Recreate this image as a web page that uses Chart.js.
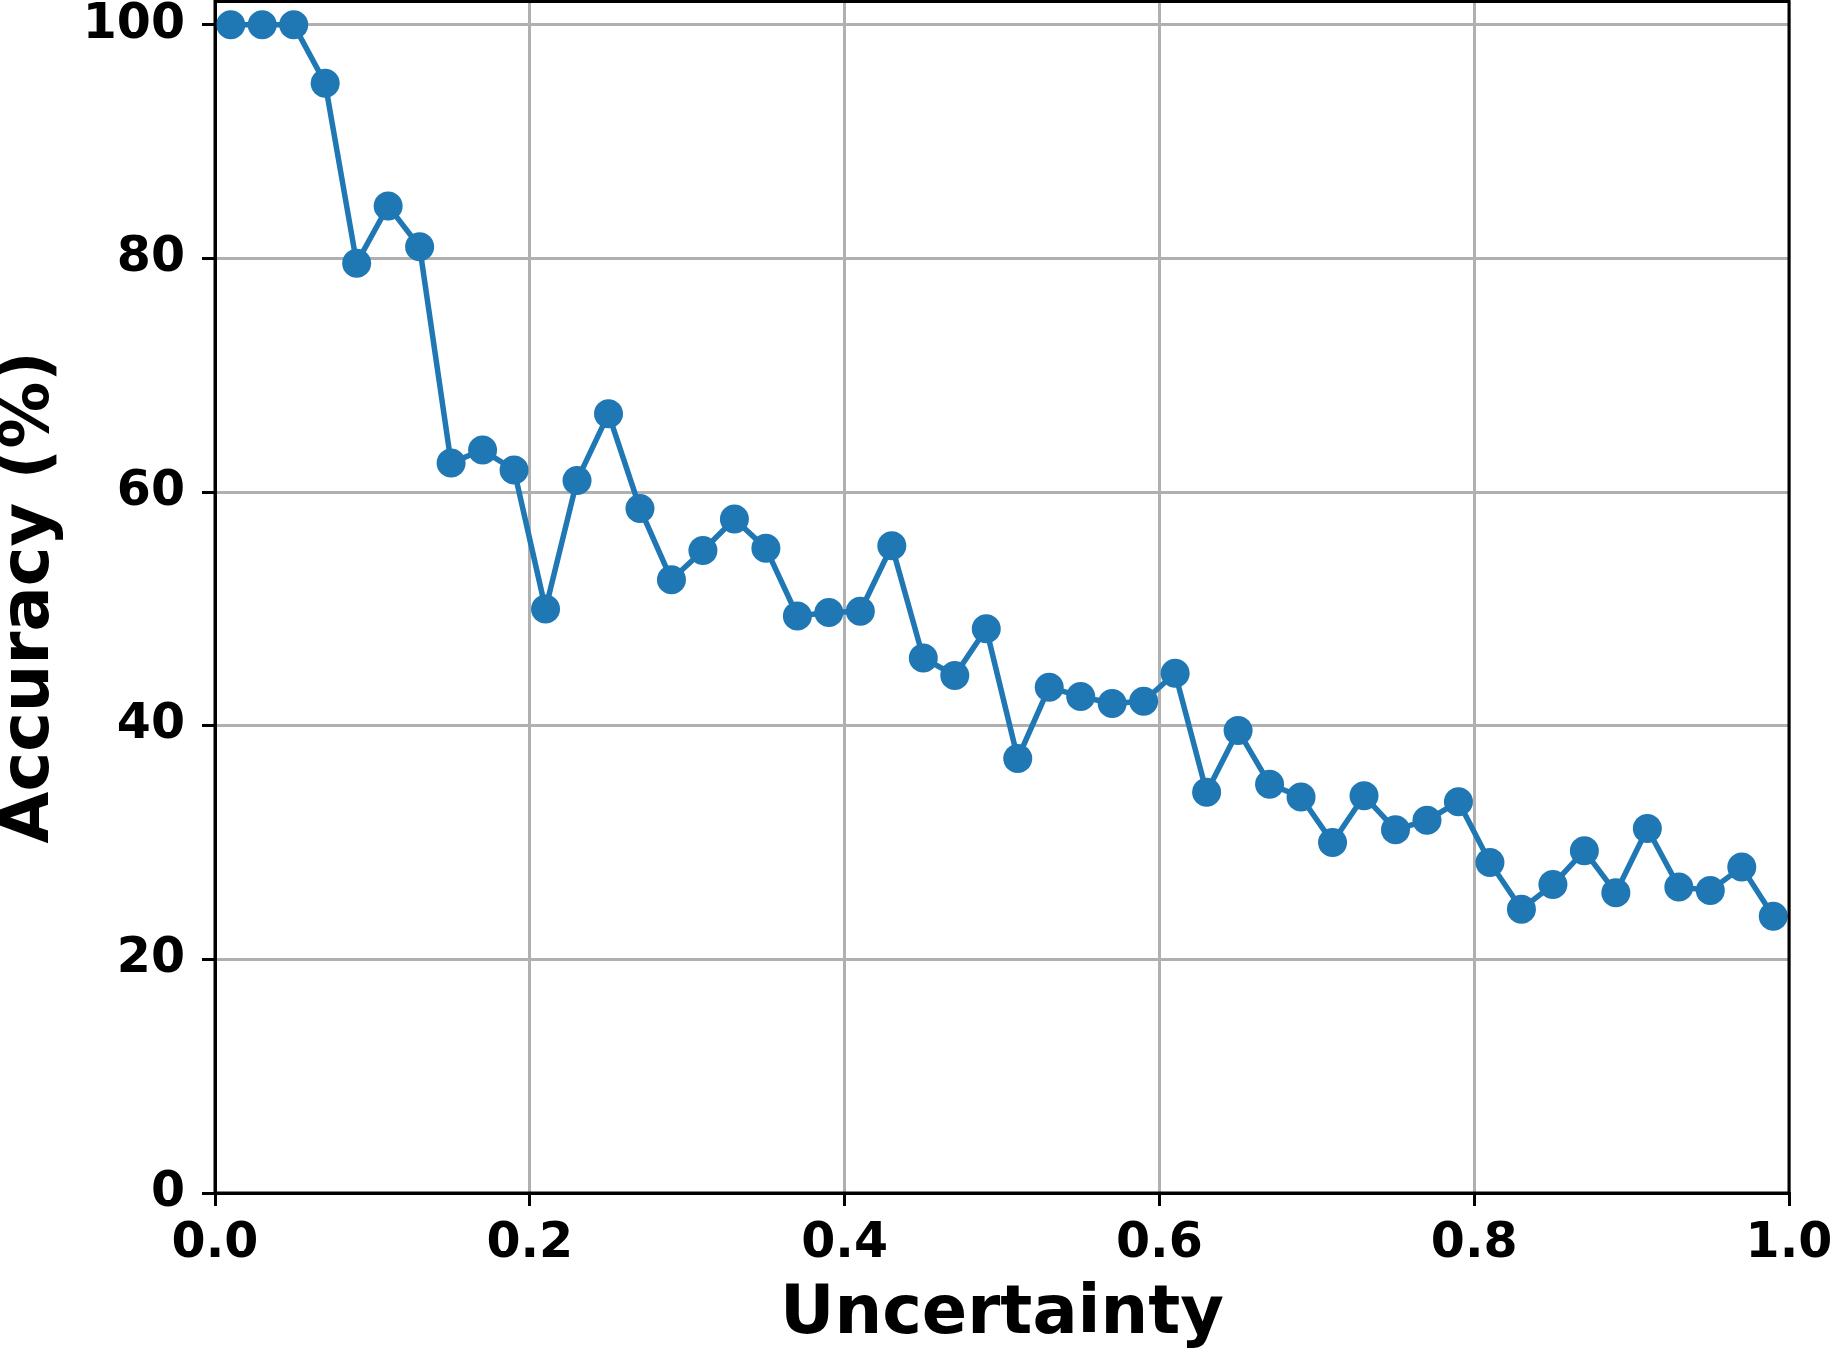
<!DOCTYPE html>
<html>
<head>
<meta charset="utf-8">
<script src="https://cdn.jsdelivr.net/npm/chart.js@4"></script>
<style>
  html, body { margin: 0; padding: 0; background: #fff; }
  #wrap { width: 1834px; height: 1353px; }
</style>
</head>
<body>
<div id="wrap"><canvas id="accChart" width="1834" height="1353"></canvas></div>
<script>
// =========================
// DATA
// =========================
let uncertainty = [0.01, 0.03, 0.05, 0.07, 0.09, 0.11, 0.13, 0.15, 0.17, 0.19,
                   0.21, 0.23, 0.25, 0.27, 0.29, 0.31, 0.33, 0.35, 0.37, 0.39,
                   0.41, 0.43, 0.45, 0.47, 0.49, 0.51, 0.53, 0.55, 0.57, 0.59,
                   0.61, 0.63, 0.65, 0.67, 0.69, 0.71, 0.73, 0.75, 0.77, 0.79,
                   0.81, 0.83, 0.85, 0.87, 0.89, 0.91, 0.93, 0.95, 0.97, 0.99];

let accuracy = [100, 100, 100, 95.0, 79.6, 84.5, 81.0, 62.5, 63.6, 61.9,
                50.0, 61.0, 66.7, 58.6, 52.5, 55.0, 57.7, 55.2, 49.4, 49.7,
                49.8, 55.4, 45.8, 44.3, 48.3, 37.2, 43.3, 42.5, 41.9, 42.1,
                44.5, 34.3, 39.6, 35.0, 33.9, 30.0, 34.0, 31.1, 31.9, 33.5,
                28.3, 24.3, 26.4, 29.3, 25.7, 31.2, 26.2, 25.9, 27.9, 23.7];

let xTicks = [0, 0.2, 0.4, 0.6, 0.8, 1.0];
let yTicks = [0, 20, 40, 60, 80, 100];

let points = uncertainty.map((u, i) => ({ x: u, y: accuracy[i] }));

let fontFamily = "'DejaVu Sans', sans-serif";

// =========================
// FRAME (top/right spines)
// =========================
let framePlugin = {
    id: "frame",
    afterDatasetsDraw(chart) {
        let a = chart.chartArea;
        let ctx = chart.ctx;
        ctx.save();
        ctx.strokeStyle = "#000";
        ctx.lineWidth = 3;
        ctx.strokeRect(a.left, a.top, a.right - a.left, a.bottom - a.top);
        ctx.restore();
    }
};

// =========================
// CHART
// =========================
new Chart(document.getElementById("accChart"), {
    type: "line",
    data: {
        datasets: [{
            data: points,
            borderColor: "#1f77b4",
            backgroundColor: "#1f77b4",
            borderWidth: 5.5,
            pointRadius: 14.5,
            pointHoverRadius: 14.5,
            pointBorderWidth: 0,
            tension: 0,
            fill: false,
            clip: 20
        }]
    },
    options: {
        responsive: false,
        animation: false,
        devicePixelRatio: 1,
        layout: {
            autoPadding: false,
            padding: { left: 0, right: 45, top: 1.5, bottom: 0 }
        },
        plugins: {
            legend: { display: false },
            tooltip: { enabled: false }
        },
        scales: {
            x: {
                type: "linear",
                min: 0,
                max: 1,
                afterBuildTicks: s => { s.ticks = xTicks.map(v => ({ value: v })); },
                afterFit: s => { s.height = 160; s.paddingLeft = 0; s.paddingRight = 0; },
                ticks: {
                    callback: v => v.toFixed(1),
                    color: "#000",
                    padding: 9,
                    maxRotation: 0,
                    font: { family: fontFamily, size: 49, weight: "bold" }
                },
                grid: {
                    color: "#b0b0b0",
                    lineWidth: 3,
                    tickColor: "#000",
                    tickLength: 13,
                    tickWidth: 3
                },
                border: { color: "#000", width: 3 },
                title: {
                    display: true,
                    text: "Uncertainty",
                    color: "#000",
                    padding: { top: 0, bottom: 4 },
                    font: { family: fontFamily, size: 67, weight: "bold", lineHeight: 1 }
                }
            },
            y: {
                min: 0,
                max: 102,
                afterBuildTicks: s => { s.ticks = yTicks.map(v => ({ value: v })); },
                afterFit: s => { s.width = 215; s.paddingTop = 0; s.paddingBottom = 0; },
                ticks: {
                    color: "#000",
                    padding: 17,
                    font: { family: fontFamily, size: 49, weight: "bold" }
                },
                grid: {
                    color: "#b0b0b0",
                    lineWidth: 3,
                    tickColor: "#000",
                    tickLength: 13,
                    tickWidth: 3
                },
                border: { color: "#000", width: 3 },
                title: {
                    display: true,
                    text: "Accuracy (%)",
                    color: "#000",
                    padding: { top: -3, bottom: 0 },
                    font: { family: fontFamily, size: 67, weight: "bold", lineHeight: 1 }
                }
            }
        }
    },
    plugins: [framePlugin]
});
</script>
</body>
</html>
